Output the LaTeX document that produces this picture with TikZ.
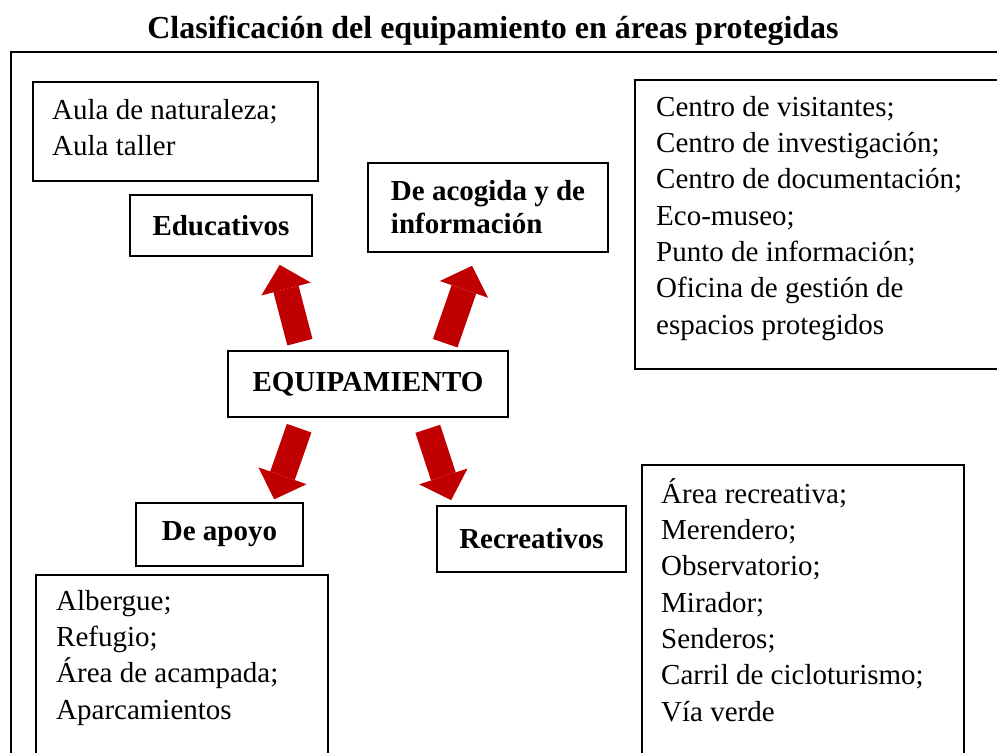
\documentclass[tikz,border=0pt]{standalone}
\usepackage{fontspec}
\setmainfont{Liberation Serif}
\usetikzlibrary{arrows.meta}
\definecolor{arrowred}{HTML}{C00000}

\begin{document}
\begin{tikzpicture}[
		x=1pt,y=-1pt,
		box/.style={
			draw,line width=1.6pt,inner sep=0pt,font=\fontsize{29}{33}\selectfont\bfseries,
		},
		listbox/.style={
			draw,line width=1.6pt,anchor=north west,inner sep=0pt,
		},
		listtext/.style={
			anchor=north west,align=left,inner sep=0pt,font=\fontsize{29}{36.3}\selectfont,
		},
		bigarrow/.style={
			draw=arrowred,line width=26pt,-{Triangle[width=51pt,length=25pt,line width=0pt]},
		},
	]

	\clip (0,0) rectangle (997,753);

	% title and outer frame
	\node[font=\fontsize{32}{38}\selectfont\bfseries,anchor=base] (title) at (493,38) {Clasificación del equipamiento en áreas protegidas};
	\draw[line width=2pt] (11,800) -- (11,52) -- (1050,52);

	% central node and the four kinds
	\node[box,minimum width=280pt,minimum height=66pt] (eq) at (368,384) {EQUIPAMIENTO};
	\node[box,minimum width=182pt,minimum height=61pt] (edu) at (221,225.5) {Educativos};
	\node[box,minimum width=240pt,minimum height=89pt,align=left] (acog) at (488,207.5) {De acogida y de\\información};
	\node[box,minimum width=167pt,minimum height=63pt] (apoyo) at (219.5,534.5) {De apoyo};
	\node[box,minimum width=189pt,minimum height=66pt] (recre) at (531.5,539) {Recreativos};

	% lists of each kind
	\node[listbox,minimum width=285pt,minimum height=99pt] (aula) at (32,81) {};
	\node[listtext] (aulatxt) at ([shift={(20,12.6)}]aula.north west) {\strut Aula de naturaleza;\\Aula taller};

	\node[listbox,minimum width=400pt,minimum height=289pt] (centro) at (634,79) {};
	\node[listtext] (centrotxt) at ([shift={(22,11.6)}]centro.north west) {\strut Centro de visitantes;\\Centro de investigación;\\Centro de documentación;\\Eco-museo;\\Punto de información;\\Oficina de gestión de\\espacios protegidos};

	\node[listbox,minimum width=292pt,minimum height=220pt] (albergue) at (35,574) {};
	\node[listtext] (alberguetxt) at ([shift={(21,10.6)}]albergue.north west) {\strut Albergue;\\Refugio;\\Área de acampada;\\Aparcamientos};

	\node[listbox,minimum width=322pt,minimum height=320pt] (area) at (641,464) {};
	\node[listtext] (areatxt) at ([shift={(20,13.6)}]area.north west) {\strut Área recreativa;\\Merendero;\\Observatorio;\\Mirador;\\Senderos;\\Carril de cicloturismo;\\Vía verde};

	% red block arrows
	\draw[bigarrow,shorten <=8.3pt,shorten >=8.3pt] ([xshift=74.8pt]eq.north west) -- ([xshift=-35.2pt]edu.south east);
	\draw[bigarrow,shorten <=7.4pt,shorten >=13.7pt] ([xshift=215.6pt]eq.north west) -- ([xshift=109.4pt]acog.south west);
	\draw[bigarrow,shorten <=11pt,shorten >=3pt] ([xshift=75.6pt]eq.south west) -- ([xshift=138pt]apoyo.north west);
	\draw[bigarrow,shorten <=11.6pt,shorten >=5.3pt] ([xshift=197pt]eq.south west) -- ([xshift=16.6pt]recre.north west);

\end{tikzpicture}
\end{document}
